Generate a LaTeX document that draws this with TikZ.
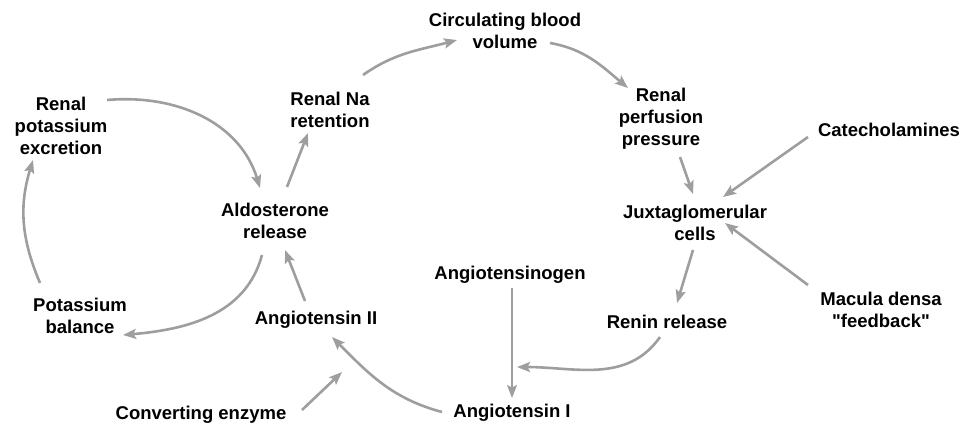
\documentclass[tikz,border=0pt]{standalone}
\usepackage{fontspec}
\setmainfont{Liberation Sans}[Ligatures=TeXOff]
\usetikzlibrary{arrows.meta,calc}
\definecolor{arr}{RGB}{158,158,158}
\begin{document}
\begin{tikzpicture}[x=1pt,y=1pt,
  lbl/.style={inner sep=0pt,align=center,font=\fontsize{18.5}{22}\selectfont\bfseries},
  conn/.style={draw=arr,line width=2.6pt,-{Stealth[length=13pt,width=10pt,inset=2.5pt]}}]
\useasboundingbox (0,0) rectangle (978,-426);
\node[lbl] (cbv) at (505,-31) {Circulating blood\\volume};
\node[lbl] (rna) at (330,-110) {Renal Na\\retention};
\node[lbl] (rpe) at (61,-126) {Renal\\potassium\\excretion};
\node[lbl] (rpp) at (661,-119) {Renal\\perfusion\\pressure};
\node[lbl] (cat) at (889,-130) {Catecholamines};
\node[lbl] (ald) at (275,-221) {Aldosterone\\release};
\node[lbl] (jg) at (695,-223) {Juxtaglomerular\\cells};
\node[lbl] (agen) at (510,-275) {Angiotensinogen};
\node[lbl] (pb) at (80,-316) {Potassium\\balance};
\node[lbl] (ang2) at (316,-320) {Angiotensin II};
\node[lbl] (renin) at (667,-322) {Renin release};
\node[lbl] (mac) at (881,-310) {Macula densa\\"feedback"};
\node[lbl] (ce) at (201,-415) {Converting enzyme};
\node[lbl] (ang1) at (512,-413) {Angiotensin I};
\coordinate (join) at ($(ang1)+(5,46)$);
\coordinate (cej) at ($(ang2)+(26,-52)$);
% arrows
\draw[conn] ($(rna)+(33,35)$) to[out=35,in=195] ($(cbv)+(-48,-9)$);
\draw[conn] ($(cbv)+(45,-12)$) to[out=-10,in=140] ($(rpp)+(-33,31)$);
\draw[conn] ($(rpp)+(19,-38)$) -- ($(jg)+(-2,29)$);
\draw[conn] ($(cat)+(-81,-7)$) -- ($(jg)+(28,26)$);
\draw[conn] ($(mac)+(-73,25)$) -- ($(jg)+(30,0)$);
\draw[conn] ($(jg)+(-2,-27)$) -- ($(renin)+(10,19)$);
\draw[conn] ($(renin)+(-7,-15)$) to[out=235,in=0] (join);
\draw[conn,line width=2pt] ($(agen)+(2,-13)$) -- ($(ang1)+(0,15)$);
\draw[conn] ($(ang1)+(-70,1)$) to[out=165,in=-45] ($(ang2)+(16,-17)$);
\draw[conn] ($(ce)+(101,5)$) -- (cej);
\draw[conn] ($(ang2)+(-11,19)$) -- ($(ald)+(10,-29)$);
\draw[conn] ($(ald)+(12,34)$) -- ($(rna)+(-22,-23)$);
\draw[conn] ($(rpe)+(46,26)$) to[out=5,in=107] ($(ald)+(-15,33)$);
\draw[conn] ($(ald)+(-13,-34)$) to[out=255,in=5] ($(pb)+(43,-19)$);
\draw[conn] ($(pb)+(-40,33)$) to[out=113,in=253] ($(rpe)+(-28,-34)$);
\end{tikzpicture}
\end{document}
